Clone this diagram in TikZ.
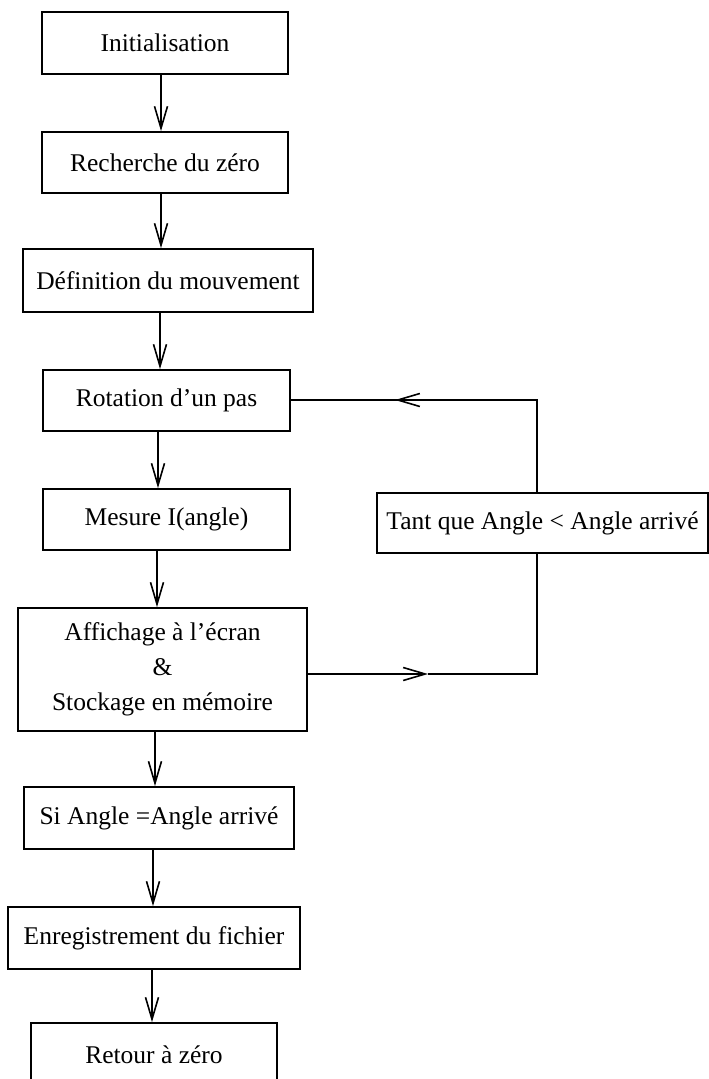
\documentclass[tikz,border=0pt]{standalone}
\usepackage{fontspec}
\setmainfont{Liberation Serif}
\usetikzlibrary{arrows.meta}
\begin{document}
\begin{tikzpicture}[x=1pt,y=-1pt,
  box/.style={draw,line width=1.8pt,rectangle,inner sep=0pt,align=center,
    font=\fontsize{25.5}{35}\selectfont},
  line/.style={line width=1.8pt},
  arr/.style={line width=1.8pt,-{Straight Barb[length=22pt,width=13pt,line width=1.6pt]}}]
\clip (0,0) rectangle (709,1079);
\fill[white] (0,0) rectangle (709,1079);
\node[box,minimum width=246pt,minimum height=62pt] (init) at (165,43) {Initialisation};
\node[box,minimum width=246pt,minimum height=61pt] (rech) at (165,162.5) {Recherche du zéro};
\node[box,minimum width=290pt,minimum height=63pt] (def) at (168,280.5) {Définition du mouvement};
\node[box,minimum width=247pt,minimum height=61pt] (rot) at (166.5,400.5) {Rotation d’un pas};
\node[box,minimum width=247pt,minimum height=61pt] (mes) at (166.5,519.5) {Mesure I(angle)};
\node[box,minimum width=289pt,minimum height=123pt] (aff) at (162.5,669.5) {Affichage à l’écran\\\&\\Stockage en mémoire};
\node[box,minimum width=270pt,minimum height=62pt] (si) at (159,818) {Si Angle =Angle arrivé};
\node[box,minimum width=292pt,minimum height=62pt] (enr) at (154,938) {Enregistrement du fichier};
\node[box,minimum width=246pt,minimum height=64pt] (ret) at (154,1055) {Retour à zéro};
\node[box,minimum width=331pt,minimum height=60pt] (tant) at (542.5,523) {Tant que Angle < Angle arrivé};
% vertical arrows
\draw[arr] (init.south -| 161,0) -- (rech.north -| 161,0);
\draw[arr] (rech.south -| 161,0) -- (def.north -| 161,0);
\draw[arr] (def.south -| 160,0) -- (rot.north -| 160,0);
\draw[arr] (rot.south -| 158,0) -- (mes.north -| 158,0);
\draw[arr] (mes.south -| 157,0) -- (aff.north -| 157,0);
\draw[arr] (aff.south -| 155,0) -- (si.north -| 155,0);
\draw[arr] (si.south -| 153,0) -- (enr.north -| 153,0);
\draw[arr] (enr.south -| 152,0) -- (ret.north -| 152,0);
% loop
\coordinate (c1) at (537,400);
\coordinate (c2) at (537,674);
\coordinate (h1) at (395,400);
\coordinate (h2) at (428,674);
\coordinate (a1) at (aff.east |- c2);
\draw[line] (tant.north -| c1) -- (c1) -- (h1);
\draw[arr] (c1) -- (h1);
\draw[line] (h1) -- (rot.east |- c1);
\draw[arr] (a1) -- (h2);
\draw[line] (h2) -- (c2) -- (tant.south -| c2);
\end{tikzpicture}
\end{document}
